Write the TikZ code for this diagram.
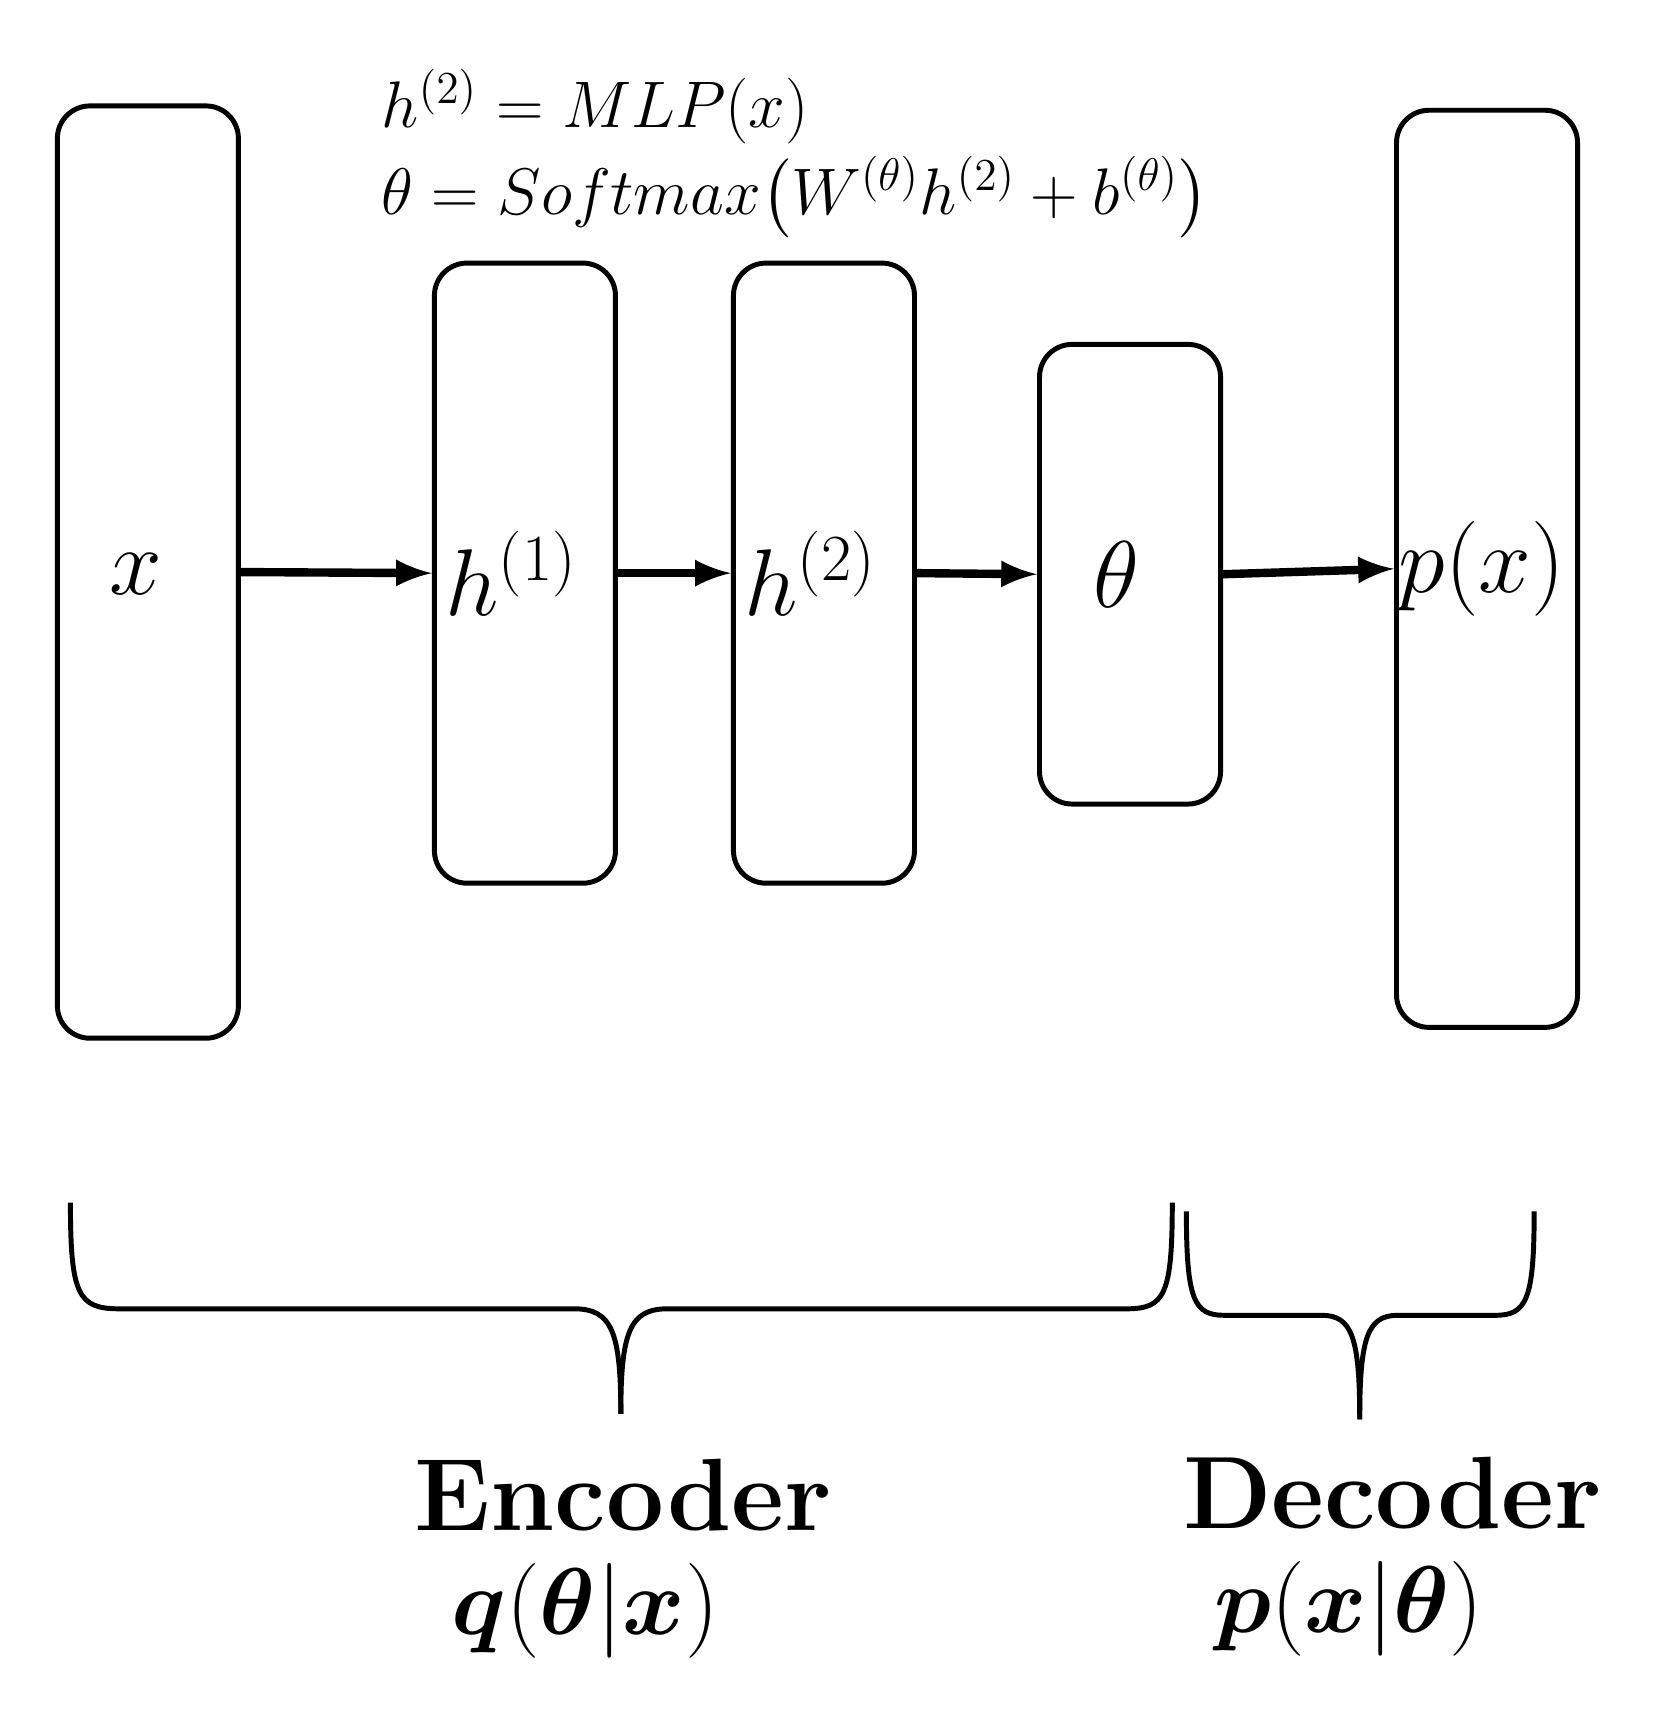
\documentclass[tikz,border=0pt]{standalone}
\usepackage{amsmath,bm}
\begin{document}
\begin{tikzpicture}[x=0.01cm,y=-0.01cm]
  \tikzset{
    layer/.style={draw, line width=1.3pt, rounded corners=0.3cm, minimum width=1.67cm},
    flow/.style={line width=2.2pt, -latex},
    brace/.style={line width=1.3pt}
  }
  \useasboundingbox (0,0) rectangle (1530,1582);

  % Layers
  \node[layer, minimum height=8.6cm]  (in)  at (136.5,528) {};
  \node[layer, minimum height=5.72cm] (hid1) at (484.5,529) {};
  \node[layer, minimum height=5.72cm] (hid2) at (760.5,529) {};
  \node[layer, minimum height=4.24cm] (lat) at (1043,530) {};
  \node[layer, minimum height=8.46cm] (out) at (1372.5,525) {};

  % Labels
  \node[font=\fontsize{24}{28}\selectfont] at (125,530) {$x$};
  \node[font=\fontsize{24}{28}\selectfont, anchor=west] at (hid1.west) {$h^{(1)}$};
  \node[font=\fontsize{24}{28}\selectfont, anchor=west] at (hid2.west) {$h^{(2)}$};
  \node[font=\fontsize{24}{28}\selectfont] at (1030,530) {$\theta$};
  \node[font=\fontsize{24}{28}\selectfont, anchor=west, inner sep=1pt] at (out.west) {$p(x)$};

  % Equations
  \node[font=\fontsize{18}{22}\selectfont, anchor=west] (eq1) at (340,98) {$h^{(2)}=MLP(x)$};
  \node[font=\fontsize{18}{22}\selectfont, anchor=west] (eq2) at (340,182) {$\theta=Softmax\bigl(W^{(\theta)}h^{(2)}+b^{(\theta)}\bigr)$};

  % Arrows
  \draw[flow] (in.east) -- (hid1.west);
  \draw[flow] (hid1.east) -- (hid2.west);
  \draw[flow] (hid2.east) -- (lat.west);
  \draw[flow] (lat.east) -- (out.west);

  % Braces
  \draw[brace] (65,1110) .. controls (65,1195) and (72,1208) .. (110,1208) -- (530,1208)
    .. controls (565,1208) and (573,1230) .. (573,1305);
  \draw[brace] (1082,1110) .. controls (1082,1195) and (1075,1208) .. (1040,1208) -- (616,1208)
    .. controls (581,1208) and (573,1230) .. (573,1305);
  \draw[brace] (1095,1118) .. controls (1095,1200) and (1102,1214) .. (1130,1214) -- (1220,1214)
    .. controls (1248,1214) and (1255,1235) .. (1255,1310);
  \draw[brace] (1416,1118) .. controls (1416,1200) and (1409,1214) .. (1380,1214) -- (1290,1214)
    .. controls (1262,1214) and (1255,1235) .. (1255,1310);

  % Titles
  \node[font=\fontsize{27}{30}\selectfont\bfseries] (enc) at (575,1380) {Encoder};
  \node[font=\fontsize{24}{28}\selectfont] (encq) at (540,1487) {$\bm{q}(\bm{\theta}|\bm{x})$};
  \node[font=\fontsize{27}{30}\selectfont\bfseries] (dec) at (1285,1378) {Decoder};
  \node[font=\fontsize{24}{28}\selectfont] (decp) at (1245,1485) {$\bm{p}(\bm{x}|\bm{\theta})$};
\end{tikzpicture}
\end{document}
